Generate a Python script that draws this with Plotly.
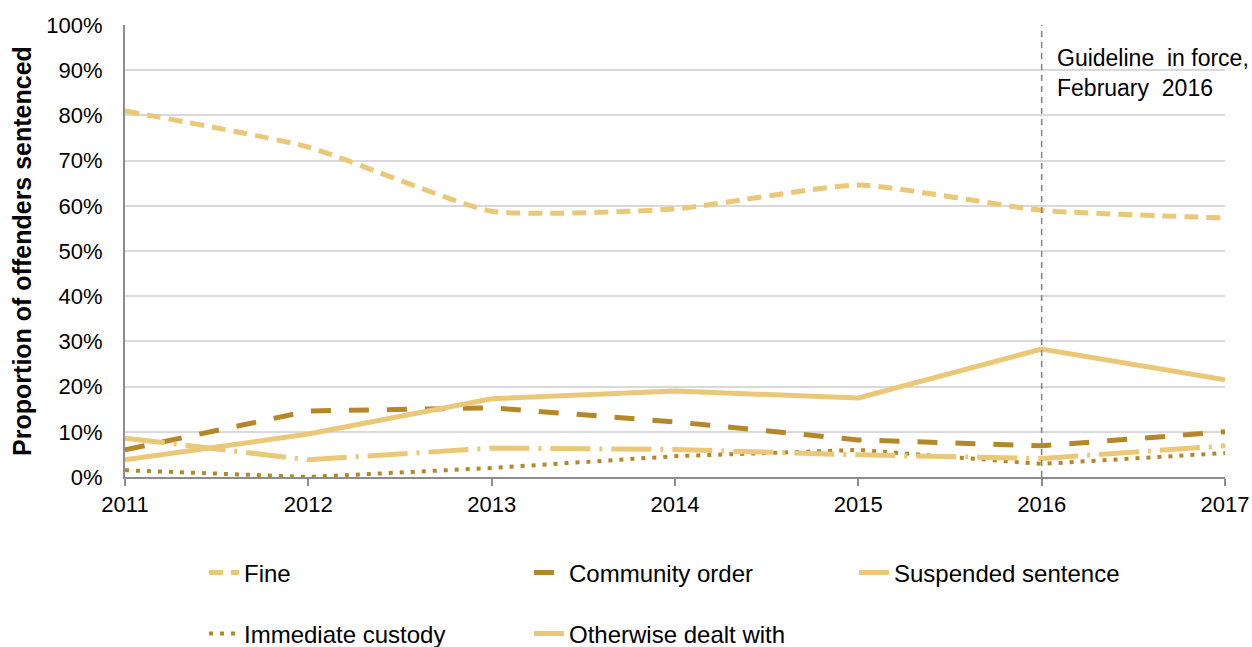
import plotly.graph_objects as go

years = [2011, 2012, 2013, 2014, 2015, 2016, 2017]
fine = [81.0, 73.0, 58.8, 59.3, 64.6, 59.0, 57.3]
community_order = [6.0, 14.6, 15.3, 12.2, 8.2, 6.9, 10.0]
suspended_sentence = [3.8, 9.5, 17.3, 19.0, 17.5, 28.3, 21.5]
immediate_custody = [1.5, 0.0, 2.0, 4.6, 6.0, 2.9, 5.3]
otherwise_dealt = [8.6, 3.8, 6.4, 6.1, 4.9, 4.1, 6.9]

y_ticks = list(range(0, 101, 10))
y_tick_labels = [f"{v}%" for v in y_ticks]

LIGHT = "#EAC878"
DARK = "#B4882A"
FONT = "Liberation Sans, Arial, sans-serif"

fig = go.Figure()
fig.add_trace(go.Scatter(x=years, y=fine, name="Fine", mode="lines",
                         line=dict(color=LIGHT, width=5, dash="14px,8px", shape="spline", smoothing=0.5),
                         legend="legend"))
fig.add_trace(go.Scatter(x=years, y=community_order, name="Community order", mode="lines",
                         line=dict(color=DARK, width=5, dash="20px,18px"),
                         legend="legend"))
fig.add_trace(go.Scatter(x=years, y=suspended_sentence, name="Suspended sentence", mode="lines",
                         line=dict(color=LIGHT, width=5),
                         legend="legend"))
fig.add_trace(go.Scatter(x=years, y=immediate_custody, name="Immediate custody", mode="lines",
                         line=dict(color=DARK, width=4, dash="4px,7px"),
                         legend="legend2"))
fig.add_trace(go.Scatter(x=years, y=otherwise_dealt, name="Otherwise dealt with", mode="lines",
                         line=dict(color=LIGHT, width=5, dash="40px,9px,3px,9px"),
                         legend="legend2"))

fig.add_shape(type="line", xref="x", yref="paper", x0=2016, x1=2016, y0=0, y1=1,
              line=dict(color="#808080", width=1.5, dash="6px,5px"))
fig.add_annotation(xref="x", yref="paper", x=2016, y=0.96, xanchor="left", yanchor="top",
                   xshift=13, align="left", showarrow=False,
                   text="Guideline  in force,<br>February  2016",
                   font=dict(family=FONT, size=23, color="#000000"))

legend_common = dict(orientation="h", xanchor="left", yanchor="middle",
                     entrywidth=280, entrywidthmode="pixels",
                     font=dict(family=FONT, size=24, color="#000000"),
                     bgcolor="rgba(0,0,0,0)", traceorder="normal")

fig.update_layout(
    width=1252, height=647,
    margin=dict(l=125, r=27, t=25, b=170, autoexpand=False),
    paper_bgcolor="white", plot_bgcolor="white",
    font=dict(family=FONT, size=22, color="#000000"),
    showlegend=True,
    legend=dict(x=0.0718, y=(477 - 573) / 452, **legend_common),
    legend2=dict(x=0.0718, y=(477 - 634) / 452, **legend_common),
    xaxis=dict(range=[2011, 2017], tickmode="array", tickvals=years,
               ticktext=[str(y) for y in years],
               showgrid=False, showline=True, linecolor="#8C8C8C", linewidth=2,
               ticks="outside", ticklen=7, tickcolor="#8C8C8C", tickwidth=1.5,
               tickfont=dict(family=FONT, size=22, color="#000000"), zeroline=False),
    yaxis=dict(range=[0, 100], tickmode="array", tickvals=y_ticks, ticktext=y_tick_labels,
               showgrid=True, gridcolor="#D9D9D9", gridwidth=1.5,
               showline=True, linecolor="#8C8C8C", linewidth=2, zeroline=False,
               ticks="", ticklabelstandoff=16,
               tickfont=dict(family=FONT, size=22, color="#000000"),
               title=dict(text="<b>Proportion of offenders sentenced</b>",
                          font=dict(family=FONT, size=25, color="#000000"), standoff=8)),
)

fig.write_html("out.html", config={"displayModeBar": False},
               post_script="document.body.style.margin='0px';document.body.style.overflow='hidden';")
